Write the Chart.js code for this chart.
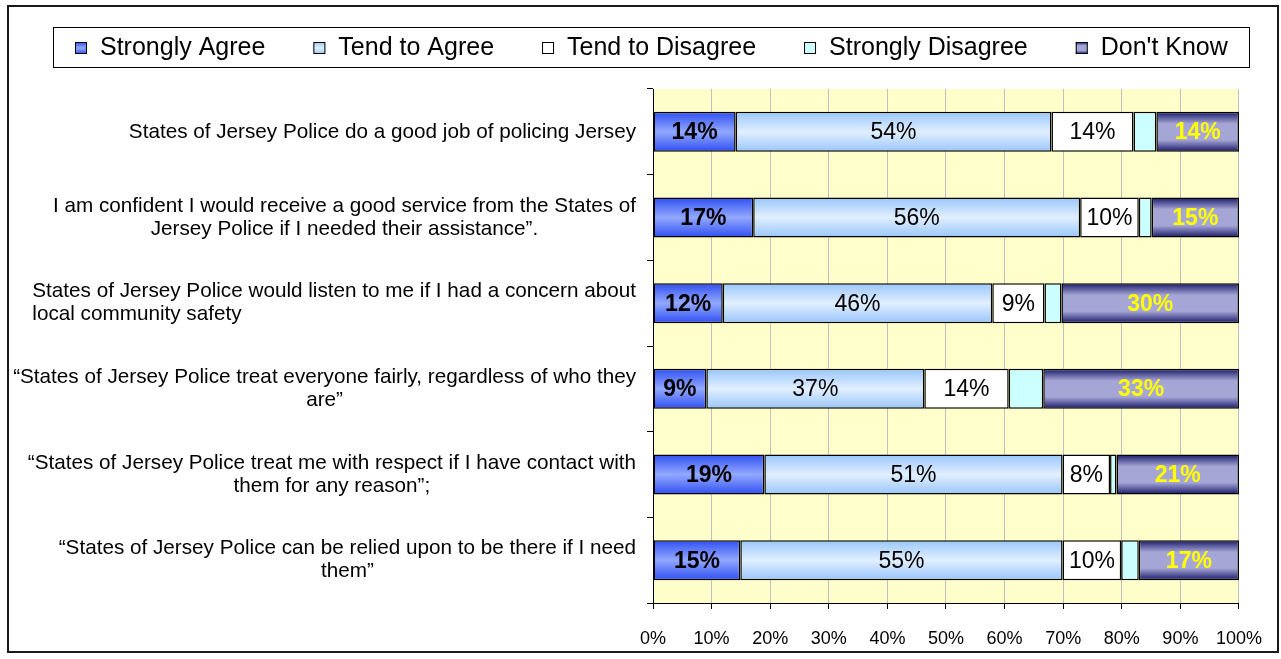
<!DOCTYPE html>
<html>
<head>
<meta charset="utf-8">
<title>States of Jersey Police - public confidence</title>
<script src="https://cdn.jsdelivr.net/npm/chart.js@4.4.1/dist/chart.umd.min.js"></script>
<style>
  html, body { margin: 0; padding: 0; background: #fff; overflow: hidden; }
  #frame { position: absolute; left: 7px; top: 5px; width: 1272px; height: 648px; box-sizing: border-box; border: 2px solid #1a1a1a; pointer-events: none; }
  #surveyChart { position: absolute; left: 0; top: 0; }
</style>
</head>
<body>
<canvas id="surveyChart" width="1281" height="659"></canvas>
<div id="frame"></div>
<script>
// statements, top to bottom
const statements = [
    ['States of Jersey Police do a good job of policing Jersey'],
    ['I am confident I would receive a good service from the States of', 'Jersey Police if I needed their assistance\u201d.'],
    ['States of Jersey Police would listen to me if I had a concern about', 'local community safety'],
    ['\u201cStates of Jersey Police treat everyone fairly, regardless of who they', 'are\u201d'],
    ['\u201cStates of Jersey Police treat me with respect if I have contact with', 'them for any reason\u201d;'],
    ['\u201cStates of Jersey Police can be relied upon to be there if I need', 'them\u201d']
];

// percentages
const stronglyAgree    = [14.1, 17.1, 11.9,  9.1, 19.0, 14.9];
const tendToAgree      = [53.9, 55.8, 46.0, 37.2, 50.9, 55.0];
const tendToDisagree   = [14.0, 10.0,  8.9, 14.4,  8.1, 10.0];
const stronglyDisagree = [ 3.9,  2.2,  2.9,  5.9,  1.1,  3.0];
const dontKnow         = [14.1, 14.9, 30.3, 33.4, 20.9, 17.1];

const seriesNames = ['Strongly Agree', 'Tend to Agree', 'Tend to Disagree', 'Strongly Disagree', "Don't Know"];
const xTicks = [0, 10, 20, 30, 40, 50, 60, 70, 80, 90, 100];

const FONT = "'Liberation Sans', Arial, sans-serif";
const BAR_PCT = 0.467;

// gradient stops (edge -> centre -> edge), like the Excel fills
const fills = {
    sa: [[0, '#2f4ff2'], [0.5, '#93a8ff'], [1, '#2f4ff2']],
    ta: [[0, '#98c6fb'], [0.5, '#e2efff'], [1, '#98c6fb']],
    td: [[0, '#ffffff'], [1, '#ffffff']],
    sd: [[0, '#ccffff'], [1, '#ccffff']],
    dk: [[0, '#17176a'], [0.3, '#a6a6d6'], [0.7, '#a6a6d6'], [1, '#17176a']]
};

function makeGradient(ctx, stops, y0, y1) {
    const g = ctx.createLinearGradient(0, y0, 0, y1);
    stops.forEach(s => g.addColorStop(s[0], s[1]));
    return g;
}

// scriptable fill: one gradient per bar, across its thickness
function barFill(stops) {
    return function(context) {
        const chart = context.chart;
        const area = chart.chartArea;
        if (!area || context.type !== 'data') return stops[0][1];
        const center = chart.scales.y.getPixelForValue(context.dataIndex);
        const half = (area.bottom - area.top) / chart.data.labels.length * BAR_PCT / 2;
        return makeGradient(chart.ctx, stops, center - half, center + half);
    };
}

// --- plot background ---
const plotBackground = {
    id: 'plotBackground',
    beforeDraw(chart) {
        const { ctx, chartArea: a } = chart;
        ctx.save();
        ctx.fillStyle = '#ffffcc';
        ctx.fillRect(a.left, a.top, a.right - a.left, a.bottom - a.top);
        ctx.restore();
    }
};

// --- statement labels: wrapped, lines centred on each other ---
const leftAlignedLabels = [2];
const statementLabels = {
    id: 'statementLabels',
    afterDraw(chart) {
        const { ctx } = chart;
        const yScale = chart.scales.y;
        const rightEdge = yScale.right - 17;
        const lineH = 23;
        ctx.save();
        ctx.font = '20.7px ' + FONT;
        ctx.fillStyle = '#000';
        ctx.textBaseline = 'middle';
        chart.data.labels.forEach((lines, i) => {
            const cy = yScale.getPixelForValue(i);
            const w = Math.max(...lines.map(l => ctx.measureText(l).width));
            const y0 = cy - (lines.length - 1) * lineH / 2;
            lines.forEach((line, k) => {
                if (leftAlignedLabels.includes(i)) {
                    ctx.textAlign = 'left';
                    ctx.fillText(line, rightEdge - w, y0 + k * lineH);
                } else {
                    ctx.textAlign = 'center';
                    ctx.fillText(line, rightEdge - w / 2, y0 + k * lineH);
                }
            });
        });
        ctx.restore();
    }
};

// --- value labels inside the segments ---
const valueLabels = {
    id: 'valueLabels',
    afterDatasetsDraw(chart) {
        const { ctx } = chart;
        ctx.save();
        ctx.textAlign = 'center';
        ctx.textBaseline = 'middle';
        chart.data.datasets.forEach((ds, i) => {
            if (!ds.labelColor) return;
            ctx.font = (ds.labelBold ? 'bold ' : '') + '23px ' + FONT;
            ctx.fillStyle = ds.labelColor;
            chart.getDatasetMeta(i).data.forEach((bar, j) => {
                ctx.fillText(Math.round(ds.data[j]) + '%', (bar.x + bar.base) / 2, bar.y + 1);
            });
        });
        ctx.restore();
    }
};

// --- boxed legend across the top ---
const boxedLegend = {
    id: 'boxedLegend',
    afterDraw(chart) {
        const { ctx } = chart;
        const box = { left: 53, top: 27, right: 1249, bottom: 67 };
        const marker = 12, markerGap = 13, itemGap = 48;
        ctx.save();
        ctx.strokeStyle = '#000';
        ctx.lineWidth = 1;
        ctx.strokeRect(box.left + 0.5, box.top + 0.5, box.right - box.left, box.bottom - box.top);

        ctx.font = '25px ' + FONT;
        const items = chart.data.datasets.map(ds => ({ ds, w: ctx.measureText(ds.label).width }));
        const total = items.reduce((s, it) => s + marker + markerGap + it.w, 0) + itemGap * (items.length - 1);
        let x = Math.round((box.left + box.right) / 2 - total / 2);
        const cy = (box.top + box.bottom) / 2;
        ctx.textBaseline = 'middle';
        ctx.textAlign = 'left';
        items.forEach(it => {
            const my = Math.round(cy - marker / 2) + 1;
            ctx.fillStyle = makeGradient(ctx, it.ds.fillStops, my, my + marker);
            ctx.fillRect(x, my, marker, marker);
            ctx.strokeStyle = '#000';
            ctx.strokeRect(x + 0.5, my + 0.5, marker - 1, marker - 1);
            ctx.fillStyle = '#000';
            ctx.fillText(it.ds.label, x + marker + markerGap, cy + 1);
            x += marker + markerGap + it.w + itemGap;
        });
        ctx.restore();
    }
};

function series(name, values, stops, labelColor, labelBold) {
    return {
        label: name,
        data: values,
        fillStops: stops,
        backgroundColor: barFill(stops),
        borderColor: '#000',
        borderWidth: 1.5,
        borderSkipped: false,
        categoryPercentage: 1,
        barPercentage: BAR_PCT,
        labelColor: labelColor,
        labelBold: labelBold
    };
}

Chart.defaults.font.family = FONT;
Chart.defaults.color = '#000';

new Chart(document.getElementById('surveyChart'), {
    type: 'bar',
    data: {
        labels: statements,
        datasets: [
            series(seriesNames[0], stronglyAgree, fills.sa, '#000', true),
            series(seriesNames[1], tendToAgree, fills.ta, '#000', false),
            series(seriesNames[2], tendToDisagree, fills.td, '#000', false),
            series(seriesNames[3], stronglyDisagree, fills.sd, null, false),
            series(seriesNames[4], dontKnow, fills.dk, '#ffff00', true)
        ]
    },
    options: {
        indexAxis: 'y',
        responsive: false,
        animation: false,
        layout: { padding: { top: 89, right: 38, bottom: 0, left: 0 } },
        scales: {
            x: {
                stacked: true,
                min: 0,
                max: 100,
                afterBuildTicks: (scale) => { scale.ticks = xTicks.map(v => ({ value: v })); },
                afterFit: (scale) => { scale.height = 56; },
                ticks: {
                    callback: (v) => v + '%',
                    font: { size: 18 },
                    color: '#000',
                    padding: 19,
                    maxRotation: 0
                },
                grid: { color: '#c0c0c0', lineWidth: 1, tickColor: '#000', tickLength: 6 },
                border: { color: '#000', width: 1 }
            },
            y: {
                stacked: true,
                afterFit: (scale) => { scale.width = 653; },
                ticks: { display: false },
                grid: { offset: true, drawOnChartArea: false, tickColor: '#000', tickLength: 6 },
                border: { color: '#000', width: 1 }
            }
        },
        plugins: {
            legend: { display: false },
            tooltip: { enabled: false }
        }
    },
    plugins: [plotBackground, statementLabels, valueLabels, boxedLegend]
});
</script>
</body>
</html>
